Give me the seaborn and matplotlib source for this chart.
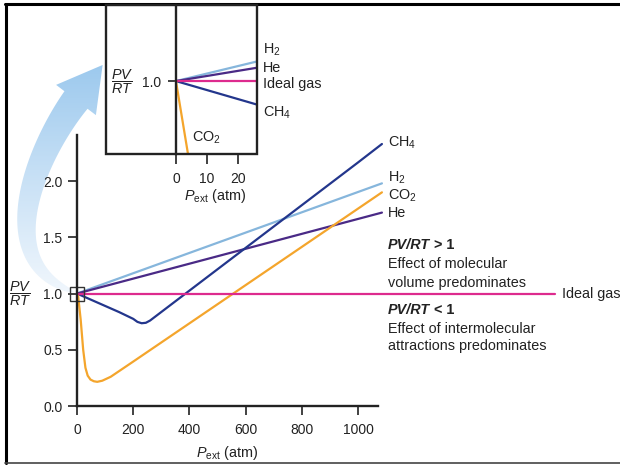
import numpy as np
import pandas as pd
import seaborn as sns
from matplotlib import pyplot as plt
from matplotlib.colors import LinearSegmentedColormap
from matplotlib.patches import Polygon, Rectangle

sns.set_style("ticks")
plt.rcParams["font.family"] = ["Liberation Sans", "DejaVu Sans"]
plt.rcParams["mathtext.fontset"] = "custom"
plt.rcParams["mathtext.rm"] = "Liberation Sans"
plt.rcParams["mathtext.it"] = "Liberation Sans:italic"
plt.rcParams["mathtext.bf"] = "Liberation Sans:bold"

# main chart, PV/RT against external pressure (atm)
h2_p = [0, 1085]
h2_z = [1.0, 1.98]
he_p = [0, 1085]
he_z = [1.0, 1.72]
ch4_p = [0, 50, 100, 150, 200, 215, 230, 245, 260, 400, 600, 800, 1000, 1085]
ch4_z = [1.0, 0.945, 0.89, 0.835, 0.775, 0.748, 0.736, 0.74, 0.76, 1.026, 1.406, 1.786, 2.166, 2.33]
co2_p = [0, 4, 13, 22, 30, 38, 48, 60, 72, 90, 120, 200, 400, 550, 800, 1085]
co2_z = [1.0, 0.98, 0.77, 0.50, 0.34, 0.27, 0.235, 0.22, 0.215, 0.225, 0.26, 0.395, 0.735, 0.99, 1.415, 1.90]
ideal_p = [0, 1700]
ideal_z = [1.0, 1.0]

# inset, low pressure region
in_p = [0, 26.3]
in_h2 = [1.0, 1.025]
in_he = [1.0, 1.017]
in_ideal = [1.0, 1.0]
in_ch4 = [1.0, 0.97]
in_co2_p = [0, 4.2]
in_co2 = [1.0, 0.9]

gases = ["H$_2$", "He", "Ideal gas", "CH$_4$", "CO$_2$"]
colors = ["#86b6dc", "#4a2a86", "#dd2b8e", "#23368c", "#f4a52c"]
xticks = [0, 200, 400, 600, 800, 1000]
yticks = [0.0, 0.5, 1.0, 1.5, 2.0]
in_xticks = [0, 10, 20]
in_yticks = [1.0]

palette = dict(zip(gases, colors))


def frame(parts):
    return pd.concat([pd.DataFrame({"P": p, "Z": z, "gas": g}) for g, p, z in parts],
                     ignore_index=True)


main = frame([(gases[0], h2_p, h2_z), (gases[1], he_p, he_z), (gases[3], ch4_p, ch4_z),
              (gases[4], co2_p, co2_z), (gases[2], ideal_p, ideal_z)])
inset = frame([(gases[0], in_p, in_h2), (gases[1], in_p, in_he), (gases[3], in_p, in_ch4),
               (gases[4], in_co2_p, in_co2), (gases[2], in_p, in_ideal)])

W, H = 620, 466
fig = plt.figure(figsize=(W / 100, H / 100), dpi=100)
fs = 10.4
ink = "#222222"

# overlay in pixel units for the frame and the curved arrow
ov = fig.add_axes([0, 0, 1, 1])
ov.set_xlim(0, W)
ov.set_ylim(H, 0)
ov.axis("off")
ov.plot([5, W], [4, 4], color="black", lw=2.2)
ov.plot([6, 6], [4, 463], color="black", lw=2.2)
ov.plot([5, W], [463, 463], color="#444444", lw=1.2)

t = np.linspace(0, 1, 80)[:, None]
cp = np.array([[74, 292], [-12, 262], [38, 150], [76, 100]], dtype=float)
curve = (1 - t) ** 3 * cp[0] + 3 * (1 - t) ** 2 * t * cp[1] + 3 * (1 - t) * t ** 2 * cp[2] + t ** 3 * cp[3]
deriv = 3 * (1 - t) ** 2 * (cp[1] - cp[0]) + 6 * (1 - t) * t * (cp[2] - cp[1]) + 3 * t ** 2 * (cp[3] - cp[2])
tang = deriv / np.linalg.norm(deriv, axis=1, keepdims=True)
nrm = np.column_stack([-tang[:, 1], tang[:, 0]])
half = 14.5 * t ** 0.5
d, n = tang[-1], nrm[-1]
head = np.array([cp[3] + n * 25, cp[3] + d * 44, cp[3] - n * 25])
outline = np.vstack([curve + nrm * half, head, (curve - nrm * half)[::-1]])
arrow = Polygon(outline, closed=True, fc="none", ec="none")
ov.add_patch(arrow)
blues = LinearSegmentedColormap.from_list("arrow", ["#f3f8fd", "#c5dff5", "#93c4ec"])
img = ov.imshow(np.linspace(1, 0, 256)[:, None], extent=(0, 140, 300, 40), origin="upper",
                cmap=blues, aspect="auto", vmin=0, vmax=1)
img.set_clip_path(arrow)

# main axes
ax = fig.add_axes([77 / W, (H - 406) / H, 301 / W, 271 / H])
ax.patch.set_visible(False)
sns.lineplot(data=main, x="P", y="Z", hue="gas", palette=palette, estimator=None,
             sort=False, lw=1.6, legend=False, ax=ax)
for line in ax.lines:
    line.set_clip_on(False)
    line.set_solid_joinstyle("round")
ax.plot([0], [1.0], marker="s", ms=10, mfc="none", mec="#333333", mew=1.0, clip_on=False)
ax.set_xlim(0, 1071)
ax.set_ylim(0, 2.41)
ax.set_xticks(xticks)
ax.set_yticks(yticks)
ax.set_yticklabels([f"{v:.1f}" for v in yticks])
sns.despine(ax=ax)
for s in ["left", "bottom"]:
    ax.spines[s].set_linewidth(1.7)
    ax.spines[s].set_color(ink)
ax.tick_params(length=6.5, width=1.3, color="#333333", labelsize=10, labelcolor=ink)
ax.tick_params(axis="x", pad=6)
ax.tick_params(axis="y", pad=4)
ax.set_xlabel(r"$P_{\mathrm{ext}}$ (atm)", fontsize=fs, color=ink, va="center")
ax.xaxis.set_label_coords(0.5, -47 / 271)
ax.set_ylabel(r"$\dfrac{PV}{RT}$", fontsize=fs, rotation=0, ha="center", va="center", color=ink)
ax.yaxis.set_label_coords(-57 / 301, 1.0 / 2.41)

lx = 1107
ax.text(lx, 2.34, gases[3], fontsize=fs, va="center", color=ink)
ax.text(lx, 2.03, gases[0], fontsize=fs, va="center", color=ink)
ax.text(lx, 1.87, gases[4], fontsize=fs, va="center", color=ink)
ax.text(lx, 1.72, gases[1], fontsize=fs, va="center", color=ink)
ax.text(1726, 1.0, gases[2], fontsize=fs, va="center", color=ink)

t1 = ax.text(lx, 1.43, "PV/RT", fontsize=fs, va="center", fontweight="bold",
             fontstyle="italic", color=ink)
ax.annotate(" > 1", xy=(1, 0), xycoords=t1, va="bottom", fontsize=fs, fontweight="bold", color=ink)
ax.text(lx, 1.26, "Effect of molecular", fontsize=fs, va="center", color=ink)
ax.text(lx, 1.095, "volume predominates", fontsize=fs, va="center", color=ink)
t2 = ax.text(lx, 0.855, "PV/RT", fontsize=fs, va="center", fontweight="bold",
             fontstyle="italic", color=ink)
ax.annotate(" < 1", xy=(1, 0), xycoords=t2, va="bottom", fontsize=fs, fontweight="bold", color=ink)
ax.text(lx, 0.686, "Effect of intermolecular", fontsize=fs, va="center", color=ink)
ax.text(lx, 0.534, "attractions predominates", fontsize=fs, va="center", color=ink)

# inset axes
axi = fig.add_axes([106 / W, (H - 154) / H, 151 / W, 149 / H])
axi.patch.set_visible(False)
sns.lineplot(data=inset, x="P", y="Z", hue="gas", palette=palette, estimator=None,
             sort=False, lw=1.6, legend=False, ax=axi)
axi.set_xlim(-22.7, 26.3)
axi.set_ylim(0.907, 1.097)
for s in ["top", "right", "bottom"]:
    axi.spines[s].set_visible(False)
axi.spines["left"].set_position(("data", 0))
axi.spines["left"].set_linewidth(1.7)
axi.spines["left"].set_color(ink)
axi.add_patch(Rectangle((0, 0), 1, 1, transform=axi.transAxes, fill=False, lw=1.7,
                        ec=ink, clip_on=False, zorder=5))
axi.set_xticks(in_xticks)
axi.set_yticks(in_yticks)
axi.set_yticklabels([f"{v:.1f}" for v in in_yticks])
axi.tick_params(length=6, width=1.3, color="#333333", labelsize=10, labelcolor=ink)
axi.tick_params(axis="x", length=7, pad=6)
axi.tick_params(axis="y", pad=5)
axi.set_xlabel(r"$P_{\mathrm{ext}}$ (atm)", fontsize=fs, color=ink, va="center")
axi.xaxis.set_label_coords((215 - 106) / 151, -42 / 149)
axi.set_ylabel(r"$\dfrac{PV}{RT}$", fontsize=fs, rotation=0, ha="center", va="center", color=ink)
axi.yaxis.set_label_coords((122 - 106) / 151, (154 - 82) / 149)

ix = 28.2
axi.text(ix, 1.040, gases[0], fontsize=fs, va="center", color=ink, clip_on=False)
axi.text(ix, 1.017, gases[1], fontsize=fs, va="center", color=ink, clip_on=False)
axi.text(ix, 0.9966, gases[2], fontsize=fs, va="center", color=ink, clip_on=False)
axi.text(ix, 0.9596, gases[3], fontsize=fs, va="center", color=ink, clip_on=False)
axi.text(5.2, 0.928, gases[4], fontsize=fs, va="center", color=ink)

fig.savefig("out.png", dpi=100)
